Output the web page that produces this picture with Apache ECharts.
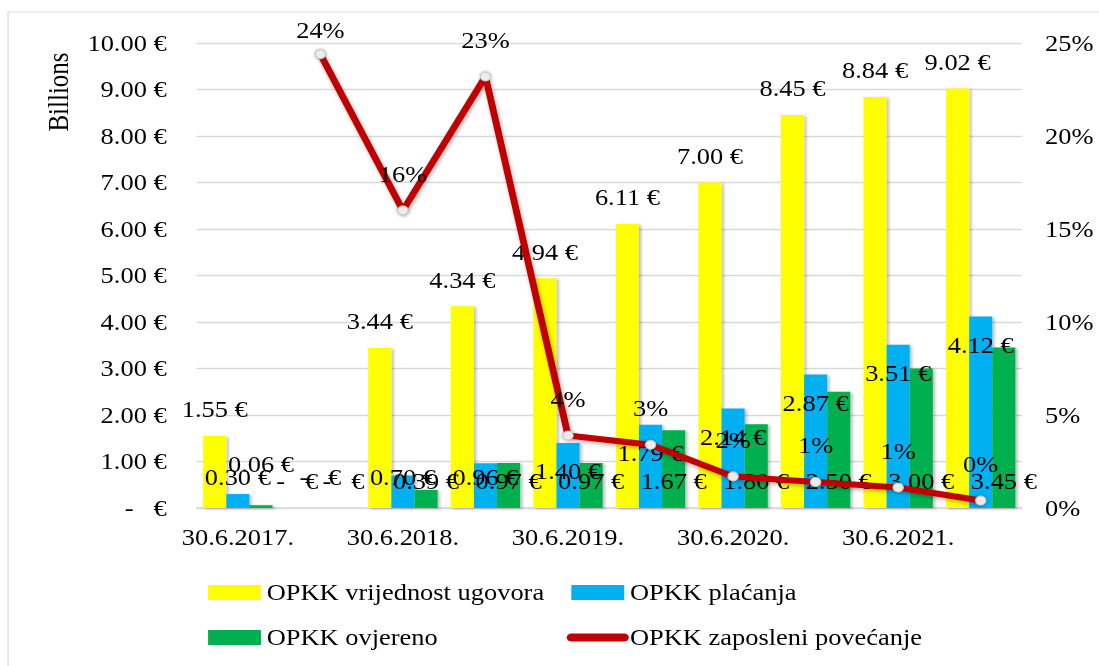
<!DOCTYPE html>
<html>
<head>
<meta charset="utf-8">
<script src="https://cdn.jsdelivr.net/npm/echarts@6/dist/echarts.min.js"></script>
<style>
  html, body { margin: 0; padding: 0; background: #fff; overflow: hidden; }
  /* the source picture is stretched sideways, so the chart is too */
  #main { width: 956px; height: 666px; transform: scaleX(1.1496); transform-origin: 0 0; }
</style>
</head>
<body>
<div id="main"></div>
<script>
// podaci
var categories = ['30.6.2017.', '31.12.2017.', '30.6.2018.', '31.12.2018.', '30.6.2019.',
                  '31.12.2019.', '30.6.2020.', '31.12.2020.', '30.6.2021.', '31.12.2021.'];
var ugovori   = [1.55, 0, 3.44, 4.34, 4.94, 6.11, 7.00, 8.45, 8.84, 9.02];
var placanja  = [0.30, 0, 0.70, 0.96, 1.40, 1.79, 2.14, 2.87, 3.51, 4.12];
var ovjereno  = [0.06, 0, 0.39, 0.97, 0.97, 1.67, 1.80, 2.50, 3.00, 3.45];
var zaposleni = [null, 24.4, 16.0, 23.2, 3.9, 3.4, 1.7, 1.4, 1.1, 0.4];

var FONT = '"Liberation Serif", "Times New Roman", serif';
var NB = '\u00a0';

function euro(v) {
  return v === 0 ? '-' + NB + NB + NB + '€' : v.toFixed(2) + NB + '€';
}

var labelBase = { show: true, fontFamily: FONT, fontSize: 23, color: '#000', formatter: function (p) { return euro(p.value); } };
var barShadow = { shadowBlur: 3, shadowOffsetX: 2, shadowOffsetY: 1, shadowColor: 'rgba(0,0,0,0.25)' };
var legendText = { fontFamily: FONT, fontSize: 23, lineHeight: 23, color: '#000' };

var chart = echarts.init(document.getElementById('main'), null, { renderer: 'svg' });

chart.setOption({
  animation: false,
  grid: { left: 171, right: 67, top: 43, bottom: 158 },
  graphic: [
    { type: 'rect', shape: { x: 7, y: 12, width: 2000, height: 2000 },
      style: { fill: 'none', stroke: '#d9d9d9', lineWidth: 1 }, silent: true },
    { type: 'text', x: 51, y: 92, rotation: Math.PI / 2,
      style: { text: 'Billions', font: '25px ' + FONT, fill: '#000', align: 'center', verticalAlign: 'middle' } }
  ],
  legend: [
    { left: 181, top: 581, padding: 0, orient: 'vertical', itemWidth: 46, itemHeight: 15, itemGap: 22,
      selectedMode: false, textStyle: legendText,
      data: [{ name: 'OPKK vrijednost ugovora', icon: 'rect' }, { name: 'OPKK ovjereno', icon: 'rect' }] },
    { left: 493, top: 581, padding: 0, orient: 'vertical', itemWidth: 46, itemHeight: 15, itemGap: 22,
      selectedMode: false, textStyle: legendText,
      lineStyle: { width: 8, cap: 'round' },
      data: [{ name: 'OPKK plaćanja', icon: 'rect' },
             { name: 'OPKK zaposleni povećanje', itemStyle: { opacity: 0 } }] }
  ],
  xAxis: {
    type: 'category',
    data: categories,
    axisTick: { show: false },
    axisLine: { lineStyle: { color: '#d9d9d9', width: 1.5 } },
    axisLabel: { interval: 1, margin: 18, fontFamily: FONT, fontSize: 23, color: '#000' }
  },
  yAxis: [
    { type: 'value', min: 0, max: 10, interval: 1,
      axisLine: { show: false }, axisTick: { show: false },
      splitLine: { lineStyle: { color: '#d9d9d9', width: 1.3 } },
      axisLabel: { margin: 26, fontFamily: FONT, fontSize: 23, color: '#000', formatter: euro } },
    { type: 'value', min: 0, max: 25, interval: 5,
      axisLine: { show: false }, axisTick: { show: false }, splitLine: { show: false },
      axisLabel: { margin: 20, fontFamily: FONT, fontSize: 23, color: '#000', formatter: '{value}%' } }
  ],
  series: [
    {
      name: 'OPKK vrijednost ugovora', type: 'bar', barWidth: '28%', barGap: '0%',
      itemStyle: Object.assign({ color: '#ffff00' }, barShadow),
      label: Object.assign({ position: 'top', distance: 15 }, labelBase),
      data: ugovori
    },
    {
      name: 'OPKK plaćanja', type: 'bar', barWidth: '28%', barGap: '0%',
      itemStyle: Object.assign({ color: '#00b0f0' }, barShadow),
      label: Object.assign({ position: 'insideTop', distance: 17 }, labelBase),
      data: placanja.map(function (v) {
        return v < 1.2 ? { value: v, label: { position: 'insideBottom', distance: 19 } } : v;
      })
    },
    {
      name: 'OPKK ovjereno', type: 'bar', barWidth: '28%', barGap: '0%',
      itemStyle: Object.assign({ color: '#00b050' }, barShadow),
      label: Object.assign({ position: 'insideBottom', distance: 15 }, labelBase),
      data: ovjereno.map(function (v) {
        return (v > 0 && v < 0.2) ? { value: v, label: { distance: 32 } } : v;
      })
    },
    {
      name: 'OPKK zaposleni povećanje', type: 'line', yAxisIndex: 1, z: 5,
      color: '#c00000',
      symbol: 'circle', symbolSize: 9,
      itemStyle: { color: '#ececec', borderColor: '#c8c8c8', borderWidth: 1,
                   shadowBlur: 3, shadowColor: 'rgba(0,0,0,0.3)' },
      lineStyle: { color: '#c00000', width: 6, cap: 'round', join: 'round',
                   shadowBlur: 4, shadowOffsetX: 1, shadowOffsetY: 2, shadowColor: 'rgba(0,0,0,0.3)' },
      label: { show: true, position: 'top', distance: 20, fontFamily: FONT, fontSize: 23, color: '#000',
               formatter: function (p) { return Math.round(p.value) + '%'; } },
      // oznaka koja bi izašla iz okvira spušta se ispod ruba, kao u Excelu
      data: zaposleni.map(function (v) {
        return (v !== null && v > 24) ? { value: v, label: { offset: [0, 12] } } : v;
      })
    }
  ]
});
</script>
</body>
</html>
